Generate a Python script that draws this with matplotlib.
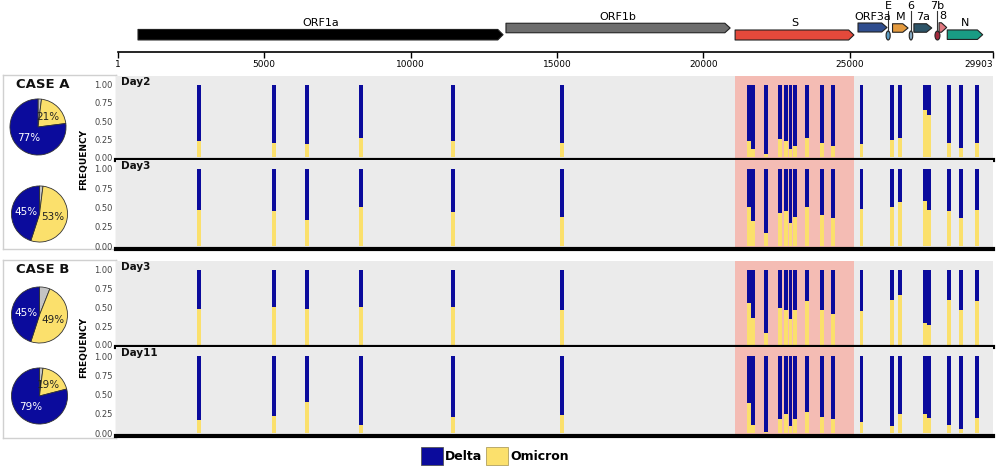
import matplotlib
matplotlib.use("Agg")
import matplotlib.pyplot as plt
from matplotlib.patches import Polygon, Ellipse, Patch

# genome layout (nt)
genome_ticks = [1, 5000, 10000, 15000, 20000, 25000, 29903]
gene_names = ['ORF1a', 'ORF1b', 'S', 'ORF3a', 'E', 'M', '6', '7a', '7b', '8', 'N']
gene_starts = [685, 13260, 21090, 25290, 26250, 26470, 27040, 27200, 27920, 28060, 28340]
gene_ends = [13160, 20920, 25150, 26280, 26390, 27000, 27160, 27810, 28090, 28320, 29550]

# mutation sites and Omicron allele frequency (Delta = 1 - Omicron)
sites = [2770, 5330, 6460, 8310, 11450, 15180,
         21560, 21690, 22140, 22620, 22830, 22980, 23140, 23550, 24060, 24440,
         25410, 26460, 26720, 27570, 27710, 28400, 28810, 29350]
omicron_a_day2 = [0.23, 0.20, 0.18, 0.26, 0.22, 0.20,
                  0.23, 0.12, 0.05, 0.25, 0.23, 0.12, 0.15, 0.26, 0.20, 0.15,
                  0.19, 0.24, 0.27, 0.65, 0.58, 0.20, 0.13, 0.20]
omicron_a_day3 = [0.47, 0.45, 0.34, 0.51, 0.44, 0.38,
                  0.50, 0.33, 0.17, 0.43, 0.45, 0.30, 0.38, 0.50, 0.40, 0.37,
                  0.48, 0.51, 0.57, 0.58, 0.47, 0.46, 0.36, 0.47]
omicron_b_day3 = [0.48, 0.50, 0.48, 0.51, 0.50, 0.47,
                  0.56, 0.36, 0.16, 0.49, 0.47, 0.34, 0.46, 0.58, 0.47, 0.41,
                  0.45, 0.60, 0.66, 0.29, 0.26, 0.60, 0.47, 0.59]
omicron_b_day11 = [0.17, 0.22, 0.41, 0.10, 0.21, 0.24,
                   0.39, 0.11, 0.01, 0.19, 0.25, 0.09, 0.18, 0.27, 0.21, 0.18,
                   0.15, 0.09, 0.25, 0.25, 0.20, 0.11, 0.05, 0.20]

# overall composition per sample: other, Omicron, Delta (%)
pie_a_day2 = [2, 21, 77]
pie_a_day3 = [2, 53, 45]
pie_b_day3 = [6, 49, 45]
pie_b_day11 = [2, 19, 79]

DELTA = '#0b0b9c'
OMICRON = '#fbe06c'
OTHER = '#c4c4c4'
PANEL_BG = '#ebebeb'
SPIKE_BG = '#f4bcb4'

# colour, vertical centre (px row), height (px), shape
gene_style = {
    'ORF1a': ('#000000', 34.7, 10.5, 'arrow'),
    'ORF1b': ('#6d6d6d', 28.0, 9.5, 'arrow'),
    'S': ('#e4493b', 35.0, 10.0, 'arrow'),
    'ORF3a': ('#2f4d8e', 27.5, 9.0, 'arrow'),
    'E': ('#5d9cc2', 35.5, 9.0, 'small'),
    'M': ('#e49a3e', 28.0, 8.5, 'arrow'),
    '6': ('#86a9c2', 35.5, 9.0, 'small'),
    '7a': ('#2d5468', 28.0, 8.5, 'arrow'),
    '7b': ('#a32a3c', 35.5, 9.0, 'small'),
    '8': ('#e07880', 27.5, 9.5, 'arrow'),
    'N': ('#199c84', 34.7, 9.5, 'arrow'),
}

W, H = 1000, 470
XLIM = (-67, 29903)


def px_axes(fig, x0, y0, x1, y1, **kw):
    return fig.add_axes([x0 / W, 1 - y1 / H, (x1 - x0) / W, (y1 - y0) / H], **kw)


def pct_label(p):
    return '' if p < 10 else '{:.0f}%'.format(p)


fig = plt.figure(figsize=(10, 4.7), dpi=100)

# ---- genome map header
ax_h = px_axes(fig, 116, 0, 993, 52)
ax_h.set_xlim(*XLIM)
ax_h.set_ylim(52, 0)
ax_h.patch.set_visible(False)
for side in ['top', 'left', 'right']:
    ax_h.spines[side].set_visible(False)
ax_h.spines['bottom'].set_bounds(1, 29903)
ax_h.spines['bottom'].set_linewidth(1.2)
ax_h.set_yticks([])
ax_h.set_xticks(genome_ticks)
ax_h.set_xticklabels([str(t) for t in genome_ticks])
ax_h.tick_params(axis='x', length=4, width=1, labelsize=6.5, pad=2)
ax_h.get_xticklabels()[-1].set_horizontalalignment('right')

tip = 180
for name, s, e in zip(gene_names, gene_starts, gene_ends):
    color, yc, h, shape = gene_style[name]
    top, bot = yc - h / 2, yc + h / 2
    if shape == 'arrow':
        pts = [(s, top), (e - tip, top), (e, yc), (e - tip, bot), (s, bot)]
        ax_h.add_patch(Polygon(pts, closed=True, facecolor=color, edgecolor='#222222',
                               linewidth=0.8, joinstyle='round'))
        ax_h.text((s + e) / 2, top - 6.5, name, ha='center', va='center', fontsize=8)
    else:
        mid = (s + e) / 2
        ax_h.add_patch(Ellipse((mid, yc), e - s, h, facecolor=color,
                               edgecolor='#222222', linewidth=0.8))
        ax_h.plot([mid, mid], [11, top], color='#333333', lw=0.8)
        ax_h.text(mid, 6, name, ha='center', va='center', fontsize=8)

# ---- case boxes, pies and frequency panels
cases = [
    ('CASE A', (75, 249), [('Day2', omicron_a_day2, pie_a_day2, 76, 159.5, (38, 127)),
                            ('Day3', omicron_a_day3, pie_a_day3, 159.5, 248.5, (39.5, 214))]),
    ('CASE B', (260, 438), [('Day3', omicron_b_day3, pie_b_day3, 261, 347, (39.5, 315)),
                            ('Day11', omicron_b_day11, pie_b_day11, 347, 435.5, (39.5, 396))]),
]

for case_name, (by0, by1), panels in cases:
    ax_box = px_axes(fig, 3, by0, 116, by1)
    ax_box.set_xticks([])
    ax_box.set_yticks([])
    for sp in ax_box.spines.values():
        sp.set_color('#d0d0d0')
        sp.set_linewidth(1)
    fig.text(43 / W, 1 - (by0 + 9.5) / H, case_name, ha='center', va='center',
             fontsize=9.5, fontweight='bold', color='#111111')
    fig.text(84 / W, 1 - panels[0][4] / H, 'FREQUENCY', rotation=90, ha='center',
             va='center', fontsize=6.5, fontweight='bold')

    for day, omi, pie_vals, y0, y1, (cx, cy) in panels:
        ax = px_axes(fig, 116, y0, 993, y1)
        ax.set_facecolor(PANEL_BG)
        ax.set_xlim(*XLIM)
        ax.set_ylim(-0.03, 1.12)
        ax.axvspan(gene_starts[2], gene_ends[2], color=SPIKE_BG, lw=0, zorder=0)
        delta = [1 - v for v in omi]
        ax.bar(sites, omi, width=130, color=OMICRON, zorder=2)
        ax.bar(sites, delta, bottom=omi, width=130, color=DELTA, zorder=2)
        for side in ['top', 'left', 'right']:
            ax.spines[side].set_visible(False)
        ax.spines['bottom'].set_linewidth(3)
        ax.spines['bottom'].set_zorder(3)
        ax.set_xticks([])
        ax.set_yticks([0, 0.25, 0.5, 0.75, 1.0])
        ax.set_yticklabels(['0.00', '0.25', '0.50', '0.75', '1.00'])
        ax.tick_params(axis='y', length=0, labelsize=6, labelcolor='#444444', pad=2.5)
        ax.text(5 / 877, 0.985, day, transform=ax.transAxes, ha='left', va='top',
                fontsize=7.5, fontweight='bold', color='#111111')

        ax_p = px_axes(fig, cx - 30, cy - 30, cx + 30, cy + 30)
        wedges, texts, autotexts = ax_p.pie(
            pie_vals, colors=[OTHER, OMICRON, DELTA], startangle=90, counterclock=False,
            autopct=pct_label, pctdistance=0.5,
            wedgeprops=dict(edgecolor='#333333', linewidth=0.6),
            textprops=dict(fontsize=7.5))
        autotexts[1].set_color('#222222')
        autotexts[2].set_color('white')
        ax_p.set_xlim(-1.07, 1.07)
        ax_p.set_ylim(-1.07, 1.07)

# ---- legend
handles = [Patch(facecolor=DELTA, edgecolor='#555555', linewidth=0.6),
           Patch(facecolor=OMICRON, edgecolor='#b0a060', linewidth=0.6)]
fig.legend(handles, ['Delta', 'Omicron'], loc='center', bbox_to_anchor=(0.495, 1 - 456 / H),
           ncol=2, frameon=False, handlelength=1.75, handleheight=1.75, handletextpad=0.15,
           columnspacing=0.3, prop=dict(size=9, weight='bold'))

fig.savefig('out.png', dpi=100)
